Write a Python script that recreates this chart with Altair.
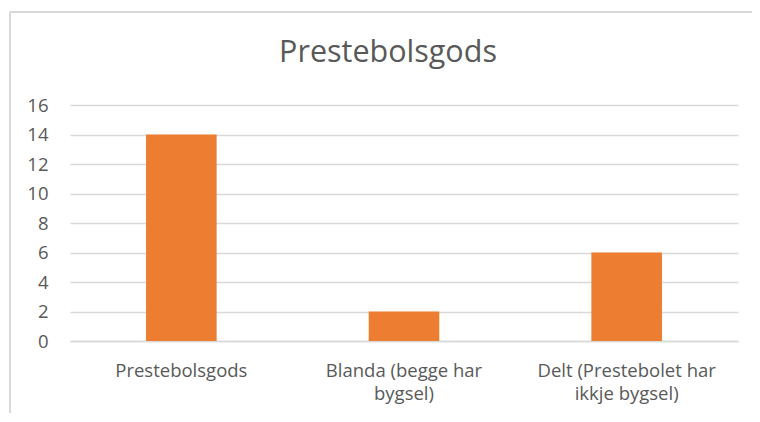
import altair as alt
import pandas as pd

categories = ["Prestebolsgods", "Blanda (begge har bygsel)", "Delt (Prestebolet har ikkje bygsel)"]
label_lines = [["Prestebolsgods"], ["Blanda (begge har", "bygsel)"], ["Delt (Prestebolet har", "ikkje bygsel)"]]
values = [14, 2, 6]
y_ticks = [0, 2, 4, 6, 8, 10, 12, 14, 16]
title_text = "Prestebolsgods"

df = pd.DataFrame({"kategori": categories, "antal": values})

# build multi-line label expression
expr = "datum.label"
for cat, lines in reversed(list(zip(categories, label_lines))):
    arr = "[" + ",".join("'" + l + "'" for l in lines) + "]"
    expr = f"datum.label == '{cat}' ? {arr} : ({expr})"

FONT = "Open Sans"
GREY = "#595959"
GRID = "#D9D9D9"

bars = alt.Chart(df).mark_bar(color="#ED7D31").encode(
    x=alt.X("kategori:N", sort=categories, title=None,
            scale=alt.Scale(paddingInner=0.683, paddingOuter=0.3415),
            axis=alt.Axis(labelAngle=0, labelExpr=expr, labelFont=FONT, labelFontSize=18.5,
                          labelColor=GREY, labelLineHeight=23, labelPadding=20,
                          ticks=False, tickSize=0, domain=True, domainColor=GRID,
                          domainWidth=1.5, grid=False, labelLimit=300)),
    y=alt.Y("antal:Q", title=None,
            scale=alt.Scale(domain=[0, 16], nice=False),
            axis=alt.Axis(values=y_ticks, labelFont=FONT, labelFontSize=18.5, labelColor=GREY,
                          ticks=False, tickSize=0, domain=False, labelPadding=22,
                          grid=True, gridColor=GRID, gridWidth=1.5)),
)

frame_top = alt.Chart(df).mark_rule(color=GRID, strokeWidth=2).encode(
    x=alt.value(-60), x2=alt.value(690), y=alt.value(-93)
)
frame_left = alt.Chart(df).mark_rule(color=GRID, strokeWidth=2).encode(
    x=alt.value(-60), y=alt.value(-93), y2=alt.value(310)
)

chart = alt.layer(frame_top, frame_left, bars).properties(
    width=668, height=236,
    padding={"left": 62, "top": 97, "right": 14, "bottom": 72},
    autosize=alt.AutoSizeParams(type="none"),
    title=alt.TitleParams(title_text, font=FONT, fontSize=30.5, color=GREY, fontWeight="normal",
                          anchor="middle", dx=-16, offset=-81, baseline="alphabetic"),
).configure_view(stroke=None)

chart.save("out.html", embed_options={"renderer": "svg", "actions": False})
